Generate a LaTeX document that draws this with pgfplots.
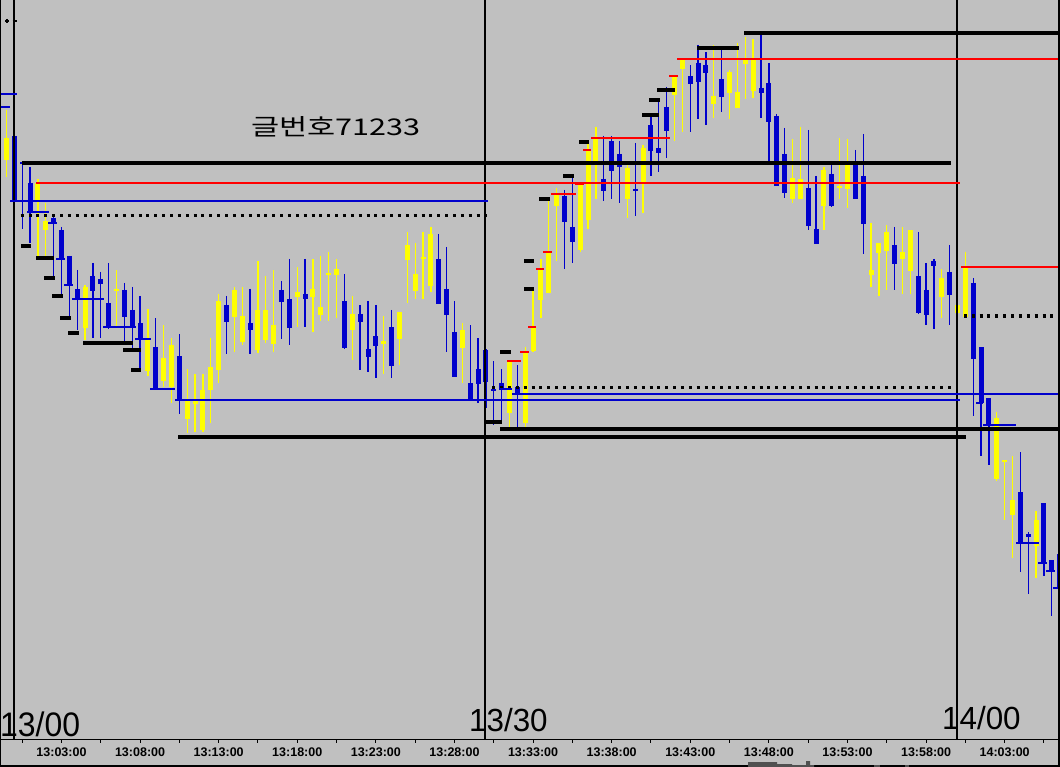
\documentclass[border=0pt]{standalone}
\usepackage{fontspec}
\setmainfont{Liberation Sans}
\newfontfamily\kr{Noto Sans CJK KR}
\usepackage{pgfplots}
\usepackage{pgfplotstable}
\pgfplotsset{compat=1.18}
\definecolor{bg}{RGB}{192,192,192}
\definecolor{cy}{RGB}{255,255,0}
\definecolor{cb}{RGB}{0,0,204}
\definecolor{cr}{RGB}{255,0,0}
\definecolor{vol}{RGB}{80,80,80}

% up candles: k hi lo bodytop bodybottom (pixel rows)
\pgfplotstableread{
k hi lo bt bb
-1 110 177 138 160
3 179 257 183 200
4 203 257 221 230
9 285 340 287 328
13 270 326 289 291
17 309 376 339 371
19 325 387 358 381
20 338 403 345 387
22 369 433 400 419
23 374 432 401 404
24 374 432 390 430
25 338 423 367 390
26 294 383 301 370
28 287 352 290 317
29 287 345 316 342
31 261 353 310 350
32 276 343 310 340
33 270 352 325 344
36 267 327 292 297
38 259 332 289 297
39 256 321 307 315
40 252 321 273 275
41 259 318 269 275
43 296 360 314 330
47 316 374 341 344
49 312 365 312 339
50 232 303 245 260
51 243 299 274 291
52 232 299 257 259
53 227 292 234 286
57 323 383 330 348
63 360 429 361 413
65 347 429 352 423
66 289 352 327 351
67 259 318 269 300
68 199 293 252 293
69 188 261 194 206
72 183 252 184 250
73 143 229 150 220
74 127 199 138 165
78 163 218 168 199
80 145 213 148 182
84 75 141 77 95
85 59 132 59 69
89 45 118 96 104
91 70 119 72 93
92 43 108 92 108
93 37 99 59 64
94 39 98 59 91
99 139 203 178 199
100 127 199 179 199
103 167 230 170 206
105 138 199 186 188
106 139 208 165 189
109 223 287 270 275
110 243 296 243 253
111 225 290 232 251
113 227 294 252 259
114 230 294 230 271
118 269 318 278 297
120 252 313 305 313
121 252 317 267 317
125 412 481 418 479
126 460 520 460 462
127 456 558 500 515
130 511 578 520 546
}\upc

% down candles
\pgfplotstableread{
k hi lo bt bb
0 130 202 136 202
1 162 229 162 164
2 167 243 183 212
5 215 278 218 223
6 227 295 230 259
7 256 318 256 285
8 270 330 289 299
10 263 338 276 291
11 272 338 279 284
12 263 329 303 327
14 283 343 290 317
15 287 349 310 327
16 296 370 323 339
18 318 389 347 389
21 334 414 356 400
27 296 354 305 322
30 289 354 323 330
34 281 339 290 302
35 259 345 299 328
37 259 327 294 299
42 274 349 301 348
44 305 370 314 322
45 301 372 349 357
46 305 378 336 346
48 310 378 327 366
54 234 304 259 304
55 247 352 289 315
56 301 377 332 377
58 325 400 383 400
59 338 403 369 384
60 349 408 350 382
61 361 425 389 391
62 369 424 383 390
64 365 429 387 393
70 190 269 196 222
71 177 263 227 242
75 136 201 179 191
76 136 199 141 171
77 141 203 154 167
79 143 216 189 191
81 114 176 125 151
82 100 172 148 153
83 87 158 107 131
86 65 132 76 84
87 45 119 63 82
88 52 125 65 73
90 50 112 79 97
95 32 118 88 93
96 63 163 83 122
97 114 186 116 186
98 128 198 154 193
101 130 230 188 226
102 176 244 229 244
104 165 207 174 206
107 150 199 161 199
108 134 254 176 224
112 227 290 245 264
115 232 314 276 313
116 263 325 290 315
117 259 329 261 266
119 245 325 272 295
122 278 416 283 359
123 347 456 347 403
124 398 465 398 426
128 452 572 492 543
129 532 594 534 537
131 503 576 503 564
132 560 616 560 571
133 553 600 554 587
}\dnc

\begin{document}
\begin{tikzpicture}
\begin{axis}[width=1060pt,height=767pt,scale only axis,
  xmin=0,xmax=1060,ymin=0,ymax=767,y dir=reverse,
  axis line style={draw=none},ticks=none,clip=true,
  unbounded coords=jump]
% background
\addplot[fill=bg,draw=none] coordinates {(0,0)(1060,0)(1060,767)(0,767)};

% wicks
\addplot[draw=none,mark=none,error bars/.cd,y dir=plus,y explicit,error mark=none,
  error bar style={cy,line width=1.3pt}]
  table[x expr={14.3+7.86*\thisrow{k}},y=hi,y error expr={\thisrow{lo}-\thisrow{hi}}]{\upc};
\addplot[draw=none,mark=none,error bars/.cd,y dir=plus,y explicit,error mark=none,
  error bar style={cb,line width=1.3pt}]
  table[x expr={14.3+7.86*\thisrow{k}},y=hi,y error expr={\thisrow{lo}-\thisrow{hi}}]{\dnc};
% bodies
\addplot[draw=none,mark=none,error bars/.cd,y dir=plus,y explicit,error mark=none,
  error bar style={cy,line width=5pt}]
  table[x expr={14.3+7.86*\thisrow{k}},y=bt,y error expr={\thisrow{bb}-\thisrow{bt}}]{\upc};
\addplot[draw=none,mark=none,error bars/.cd,y dir=plus,y explicit,error mark=none,
  error bar style={cb,line width=5pt}]
  table[x expr={14.3+7.86*\thisrow{k}},y=bt,y error expr={\thisrow{bb}-\thisrow{bt}}]{\dnc};

% vertical session lines
\addplot[black,line width=1.6pt] coordinates {(14,0)(14,739) (0,nan) (485,0)(485,739) (0,nan) (957,0)(957,739)};

% dotted lines
\addplot[black,line width=3pt,dash pattern=on 3pt off 4.86pt] coordinates {(20.7,216)(487,216)};
\addplot[black,line width=3pt,dash pattern=on 3pt off 4.86pt] coordinates {(492.3,387)(958,387)};
\addplot[black,line width=3pt,dash pattern=on 3pt off 4.86pt] coordinates {(963.9,316)(1060,316)};

% blue lines
\addplot[cb,line width=2pt] coordinates {
(0,94)(17,94) (0,nan) (0,107)(10,107) (0,nan)
(10,201)(488,201) (0,nan) (175,400)(960,400) (0,nan) (512,394)(1060,394) (0,nan)
(27,212)(49,212) (0,nan) (48,223)(57,223) (0,nan) (56,259)(65,259) (0,nan)
(64,285)(73,285) (0,nan) (72,299)(104,299) (0,nan) (103,327)(136,327) (0,nan)
(135,339)(151,339) (0,nan) (150,389)(175,389) (0,nan) (499,389)(512,389) (0,nan)
(976,403)(983,403) (0,nan) (983,424.5)(1016,424.5) (0,nan) (1016,543)(1039,543) (0,nan)
(1038,563)(1047,563) (0,nan) (1046,571)(1055,571) (0,nan) (1053,587.5)(1060,587.5)};

% red lines
\addplot[cr,line width=2.3pt] coordinates {
(36,183)(960,183) (0,nan) (677,59)(1060,59) (0,nan) (961,267)(1060,267) (0,nan)
(507,360.7)(521,360.7) (0,nan) (520,351.7)(529,351.7) (0,nan) (528,326.7)(536,326.7) (0,nan)
(536,268.7)(544,268.7) (0,nan) (543,252)(552,252) (0,nan) (551,193.7)(576,193.7) (0,nan)
(575,184.3)(584,184.3) (0,nan) (583,150)(591,150) (0,nan) (591,137.7)(670,137.7) (0,nan)
(669,76)(678,76)};

% thick black lines
\addplot[black,line width=4pt] coordinates {
(22,163)(951,163) (0,nan) (178,436.5)(966,436.5) (0,nan) (500,428.5)(1060,428.5) (0,nan)
(744,33)(1060,33)};
% short black dashes
\addplot[black,line width=4pt] coordinates {
(21,246)(31,246) (0,nan) (36,258)(54,258) (0,nan) (44,278.5)(55,278.5) (0,nan)
(52,296)(63,296) (0,nan) (60,318)(71,318) (0,nan) (68,333)(79,333) (0,nan)
(83,343)(133,343) (0,nan) (123,349.5)(141,349.5) (0,nan) (131,370)(141,370) (0,nan)
(486,422)(502,422) (0,nan) (500,352)(511,352) (0,nan) (524,289)(534,289) (0,nan)
(524,261)(534,261) (0,nan) (539,199)(550,199) (0,nan) (563,176)(574,176) (0,nan)
(579,141.7)(589,141.7) (0,nan) (642,115.3)(659,115.3) (0,nan) (649,100.3)(660,100.3) (0,nan)
(657,90)(675,90) (0,nan) (697,47.7)(739,47.7)};

% top-left markers
\addplot[only marks,mark=+,mark size=2pt,black,line width=1.2pt] coordinates {(7,21)(14.5,21)};

% bottom strip
\addplot[black,line width=1.5pt] coordinates {(0,739.5)(1060,739.5)};
\addplot[black,line width=2pt] coordinates {(1059,0)(1059,767) (0,nan) (0,766)(1060,766)};
\addplot[black,line width=1pt] coordinates {(0.5,0)(0.5,767)};
\addplot[fill=vol,draw=none] coordinates {(748,762)(777,762)(777,764)(792,764)(792,765)(806,765)(806,761)(810,761)(810,765)(814,765)(814,767)(748,767)};
\addplot[fill=vol,draw=none] coordinates {(874,765)(880,765)(880,767)(874,767)};
\addplot[fill=vol,draw=none] coordinates {(905,765)(909,765)(909,767)(905,767)};
% tick marks
\addplot[draw=none,mark=none,error bars/.cd,y dir=plus,y fixed=4,error mark=none,
  error bar style={black,line width=1pt}] coordinates {
(22.16,739)(61.46,739)(100.76,739)(140.06,739)(179.36,739)(218.66,739)(257.96,739)
(297.26,739)(336.56,739)(375.86,739)(415.16,739)(454.46,739)(493.76,739)(533.06,739)
(572.36,739)(611.66,739)(650.96,739)(690.26,739)(729.56,739)(768.86,739)(808.16,739)
(847.46,739)(886.76,739)(926.06,739)(965.36,739)(1004.66,739)(1043.96,739)};

\tikzset{tl/.style={font=\bfseries\fontsize{12.5}{12.5}\selectfont,inner sep=0}}
\node[tl] at (axis cs:61.46,752.5) {13:03:00};
\node[tl] at (axis cs:140.06,752.5) {13:08:00};
\node[tl] at (axis cs:218.66,752.5) {13:13:00};
\node[tl] at (axis cs:297.26,752.5) {13:18:00};
\node[tl] at (axis cs:375.86,752.5) {13:23:00};
\node[tl] at (axis cs:454.46,752.5) {13:28:00};
\node[tl] at (axis cs:533.06,752.5) {13:33:00};
\node[tl] at (axis cs:611.66,752.5) {13:38:00};
\node[tl] at (axis cs:690.26,752.5) {13:43:00};
\node[tl] at (axis cs:768.86,752.5) {13:48:00};
\node[tl] at (axis cs:847.46,752.5) {13:53:00};
\node[tl] at (axis cs:926.06,752.5) {13:58:00};
\node[tl] at (axis cs:1004.66,752.5) {14:03:00};

\node[anchor=base west,inner sep=0] at (axis cs:0,736) {\scalebox{0.94}[1]{\fontsize{34}{34}\selectfont 13/00}};
\node[anchor=base west,inner sep=0] at (axis cs:469,731.5) {\scalebox{0.98}[1]{\fontsize{32}{32}\selectfont 13/30}};
\node[anchor=base west,inner sep=0] at (axis cs:942,729) {\scalebox{0.98}[1]{\fontsize{32}{32}\selectfont 14/00}};

\node[anchor=base west,inner sep=0] at (axis cs:251,135.5) {\scalebox{1.33}[1]{\kr\fontsize{23}{23}\selectfont 글번호71233}};
\end{axis}
\end{tikzpicture}
\end{document}
